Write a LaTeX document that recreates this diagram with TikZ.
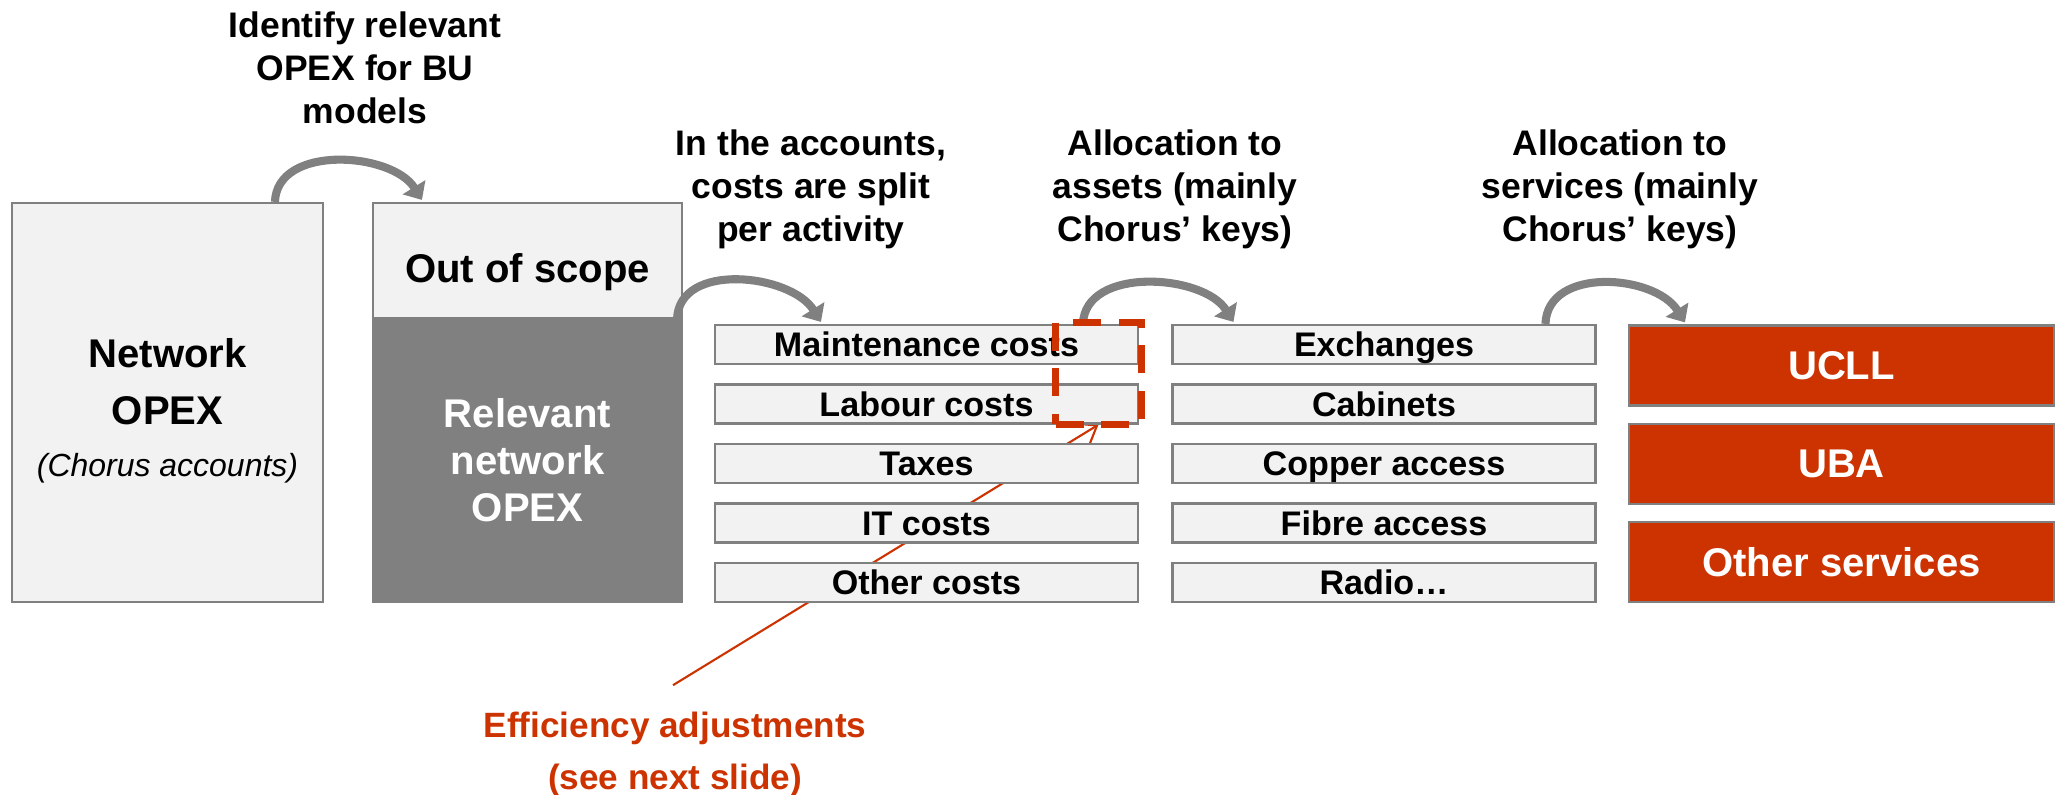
\documentclass[tikz,border=0pt]{standalone}
\usepackage{fontspec}
\setmainfont{Liberation Sans}
\usepackage{xcolor}
\usepackage{tikz}
\usetikzlibrary{calc, arrows.meta}
\definecolor{boxgrey}{HTML}{F2F2F2}
\definecolor{edgegrey}{HTML}{808080}
\definecolor{accent}{HTML}{CC3300}
\pgfdeclarelayer{back}
\pgfsetlayers{back,main}

\begin{document}
\begin{tikzpicture}[
    box/.style={draw=edgegrey, line width=0.6pt, fill=boxgrey, inner sep=0pt, font=\fontsize{9.7}{11}\selectfont\bfseries},
    row/.style={box, minimum width=4.23cm, minimum height=0.39cm, text height=7pt, text depth=0pt},
    service/.style={box, fill=accent, text=white, minimum width=4.25cm, minimum height=0.8cm, font=\fontsize{11.4}{13}\selectfont\bfseries},
    curvearrow/.style={draw=edgegrey, line width=2.3pt, -{Triangle[width=0.26cm, length=0.15cm]}},
    stagetext/.style={align=center, font=\fontsize{10.1}{12.2}\selectfont\bfseries}
  ]
  \useasboundingbox (0,0) rectangle (20.58,7.95);

  % left blocks
  \node[box, minimum width=3.11cm, minimum height=3.99cm, align=center, font=\fontsize{11.4}{16.2}\selectfont] (net) at (1.675,3.925)
    {\rule{0pt}{12.9pt}\bfseries Network\\\bfseries OPEX\\[-1.4pt]{\fontsize{9.1}{11}\selectfont\itshape (Chorus accounts)}};
  \node[box, minimum width=3.09cm, minimum height=1.15cm, text height=12.6pt, text depth=0pt, font=\fontsize{11.4}{13}\selectfont\bfseries] (oos) at (5.275,5.345) {Out of scope};
  \node[box, fill=edgegrey, text=white, minimum width=3.09cm, minimum height=2.84cm, align=center, font=\fontsize{11.4}{13.4}\selectfont\bfseries] (rel) at (5.275,3.35) {Relevant\\network\\OPEX};

  % cost lines
  \node[row] (maint) at (9.265,4.505) {Maintenance costs};
  \node[row] (lab)   at (9.265,3.91)  {Labour costs};
  \node[row] (tax)   at (9.265,3.315) {Taxes};
  \node[row] (itc)   at (9.265,2.72)  {IT costs};
  \node[row] (oth)   at (9.265,2.125) {Other costs};

  % assets
  \node[row] (exch) at (13.84,4.505) {Exchanges};
  \node[row] (cab)  at (13.84,3.91)  {Cabinets};
  \node[row] (cop)  at (13.84,3.315) {Copper access};
  \node[row] (fib)  at (13.84,2.72)  {Fibre access};
  \node[row] (rad)  at (13.84,2.125) {Radio\ldots};

  % services
  \node[service] (ucll) at (18.415,4.295) {UCLL};
  \node[service] (uba)  at (18.415,3.31)  {UBA};
  \node[service] (osv)  at (18.415,2.33)  {Other services};

  % step labels
  \node[stagetext] (lid)    at (3.65,7.27)  {Identify relevant\\OPEX for BU\\models};
  \node[stagetext] (lacc)   at (8.11,6.06)  {In the accounts,\\costs are split\\per activity};
  \node[stagetext] (lasset) at (11.75,6.06) {Allocation to\\assets (mainly\\Chorus’ keys)};
  \node[stagetext] (lserv)  at (16.20,6.06) {Allocation to\\services (mainly\\Chorus’ keys)};

  % curved arrows
  \draw[curvearrow] ($(net.north west)+(2.64,0)$) .. controls +(0.02,0.58) and +(-0.3,0.48) .. ($(oos.north west)+(0.5,0.02)$);
  \draw[curvearrow] ($(oos.south east)+(-0.06,0)$) .. controls +(0.02,0.58) and +(-0.3,0.48) .. ($(maint.north west)+(1.07,0.02)$);
  \draw[curvearrow] ($(maint.north west)+(3.69,0)$) .. controls +(0.02,0.58) and +(-0.3,0.48) .. ($(exch.north west)+(0.62,0.02)$);
  \draw[curvearrow] ($(exch.north west)+(3.74,0)$) .. controls +(0.02,0.58) and +(-0.3,0.48) .. ($(ucll.north west)+(0.57,0.02)$);

  % efficiency adjustments
  \node[draw=accent, line width=1.8pt, dash pattern=on 8pt off 5pt, minimum width=0.86cm, minimum height=1.02cm, inner sep=0pt] (adj) at (10.985,4.215) {};
  \node[text=accent, align=center, font=\fontsize{10}{14.8}\selectfont\bfseries] (eff) at (6.75,0.41) {Efficiency adjustments\\(see next slide)};
  \begin{pgfonlayer}{back}
    \draw[accent, line width=0.6pt, -{Straight Barb[length=0.16cm, width=0.24cm]}] ($(eff.north)+(-0.02,0.14)$) -- ($(adj.south)+(0,0.03)$);
  \end{pgfonlayer}
\end{tikzpicture}
\end{document}
